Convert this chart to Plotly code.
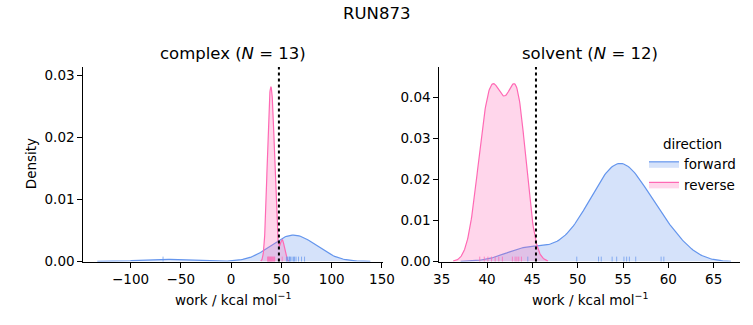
import numpy as np
import plotly.graph_objects as go

# Work samples (kcal/mol) per phase and direction
complex_forward = [-67.7, 55.0, 56.0, 57.5, 58.0, 59.0, 60.5, 62.0, 63.0, 64.5, 67.0, 70.0, 73.0]
complex_reverse = [36.3, 36.8, 37.4, 38.0, 38.7, 39.3, 39.9, 40.5, 41.2, 42.0, 42.8, 43.3, 50.8]
solvent_forward = [44.5, 49.9, 52.3, 52.6, 53.8, 54.3, 55.1, 55.4, 55.7, 56.4, 59.2, 59.5]
solvent_reverse = [39.2, 39.7, 40.1, 40.5, 40.9, 41.3, 41.7, 42.8, 43.1, 43.3, 43.5, 43.8]

# Free-energy estimates marked by the dotted lines
complex_estimate = 47.5
solvent_estimate = 45.4

directions = ["forward", "reverse"]
line_colors = {"forward": "rgb(100,149,237)", "reverse": "rgb(255,105,180)"}
fill_colors = {"forward": "rgba(100,149,237,0.27)", "reverse": "rgba(255,105,180,0.27)"}

panels = [
    {"name": "complex", "n": 13, "data": {"forward": complex_forward, "reverse": complex_reverse},
     "estimate": complex_estimate, "xr": [-147, 151], "yr": [0, 0.0314],
     "xticks": [-100, -50, 0, 50, 100, 150], "yticks": [0, 0.01, 0.02, 0.03]},
    {"name": "solvent", "n": 12, "data": {"forward": solvent_forward, "reverse": solvent_reverse},
     "estimate": solvent_estimate, "xr": [34.74, 67.9], "yr": [0, 0.0474],
     "xticks": [35, 40, 45, 50, 55, 60, 65], "yticks": [0, 0.01, 0.02, 0.03, 0.04]},
]

n_total = sum(len(v) for p in panels for v in p["data"].values())


def kde(samples, total, cut=3, gridsize=200):
    """Gaussian KDE with Scott's bandwidth, normalised over all subsets."""
    x = np.asarray(samples, dtype=float)
    h = x.std(ddof=1) * len(x) ** (-1 / 5)
    grid = np.linspace(x.min() - cut * h, x.max() + cut * h, gridsize)
    z = (grid[:, None] - x[None, :]) / h
    dens = np.exp(-0.5 * z ** 2).sum(axis=1) / (h * np.sqrt(2 * np.pi)) / total
    return grid, dens


W, H = 753, 325
FONT = "DejaVu Sans"
x_domains = [[83.3 / W, 383 / W], [439.3 / W, 740 / W]]
y_domain = [1 - 261.5 / H, 1 - 67 / H]

fig = go.Figure()
shapes = []
annotations = []

for i, p in enumerate(panels):
    xa = "x" if i == 0 else "x2"
    ya = "y" if i == 0 else "y2"
    for d in directions:
        gx, gy = kde(p["data"][d], n_total)
        fig.add_trace(go.Scatter(
            x=gx, y=gy, mode="lines", fill="tozeroy",
            line=dict(color=line_colors[d], width=1.2),
            fillcolor=fill_colors[d], name=d, legendgroup=d,
            showlegend=(i == 1), xaxis=xa, yaxis=ya, hoverinfo="skip"))
    # rug ticks along the bottom of each panel
    for d in directions:
        for v in p["data"][d]:
            shapes.append(dict(type="line", xref=xa, yref=f"{ya} domain",
                               x0=v, x1=v, y0=0, y1=0.025,
                               line=dict(color=line_colors[d], width=1), opacity=0.7))
    shapes.append(dict(type="line", xref=xa, yref=f"{ya} domain",
                       x0=p["estimate"], x1=p["estimate"], y0=0, y1=1,
                       line=dict(color="black", width=2, dash="dot")))
    cx = sum(x_domains[i]) / 2
    annotations.append(dict(text=f"{p['name']} (<i>N</i> = {p['n']})", x=cx, y=1 - 54 / H,
                            xref="paper", yref="paper", showarrow=False,
                            xanchor="center", yanchor="middle",
                            font=dict(family=FONT, size=16.5, color="black")))
    annotations.append(dict(text="work / kcal mol<sup>−1</sup>", x=cx, y=1 - 299 / H,
                            xref="paper", yref="paper", showarrow=False,
                            xanchor="center", yanchor="middle",
                            font=dict(family=FONT, size=13.5, color="black")))

annotations.append(dict(text="RUN873", x=376 / W, y=1 - 13 / H, xref="paper", yref="paper",
                        showarrow=False, xanchor="center", yanchor="middle",
                        font=dict(family=FONT, size=16.5, color="black")))
annotations.append(dict(text="Density", x=31 / W, y=sum(y_domain) / 2, xref="paper", yref="paper",
                        showarrow=False, xanchor="center", yanchor="middle", textangle=-90,
                        font=dict(family=FONT, size=13.5, color="black")))

axis_common = dict(showline=True, linecolor="black", linewidth=1, ticks="outside",
                   ticklen=5, tickwidth=1, tickcolor="black", showgrid=False,
                   zeroline=False, automargin=False,
                   tickfont=dict(family=FONT, size=13.5, color="black"))

layout = dict(
    width=W, height=H, autosize=False,
    margin=dict(l=0, r=0, t=0, b=0, pad=0, autoexpand=False),
    paper_bgcolor="white", plot_bgcolor="white",
    shapes=shapes, annotations=annotations,
    legend=dict(x=644 / W, y=1 - 131 / H, xanchor="left", yanchor="top",
                bgcolor="rgba(0,0,0,0)", itemwidth=30, tracegroupgap=0,
                title=dict(text="direction", side="top center",
                           font=dict(family=FONT, size=13.5, color="black")),
                font=dict(family=FONT, size=13.5, color="black")),
)
for i, p in enumerate(panels):
    sx = "" if i == 0 else "2"
    layout[f"xaxis{sx}"] = dict(axis_common, domain=x_domains[i], range=p["xr"],
                                tickvals=p["xticks"], anchor=f"y{sx}")
    layout[f"yaxis{sx}"] = dict(axis_common, domain=y_domain, range=p["yr"],
                                tickvals=p["yticks"], tickformat=".2f", anchor=f"x{sx}")

fig.update_layout(**layout)
fig.write_html("out.html")
